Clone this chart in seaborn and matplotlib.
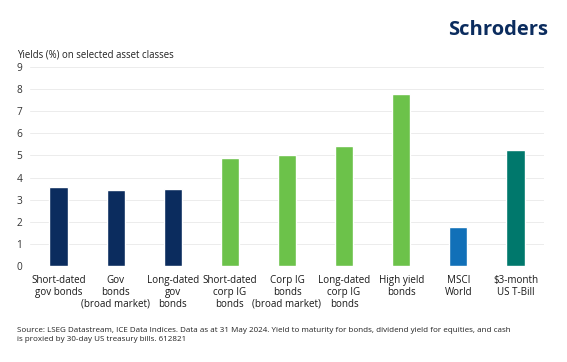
import matplotlib
matplotlib.use("Agg")
import matplotlib.pyplot as plt
import seaborn as sns
import pandas as pd

categories = [
    "Short-dated\ngov bonds",
    "Gov\nbonds\n(broad market)",
    "Long-dated\ngov\nbonds",
    "Short-dated\ncorp IG\nbonds",
    "Corp IG\nbonds\n(broad market)",
    "Long-dated\ncorp IG\nbonds",
    "High yield\nbonds",
    "MSCI\nWorld",
    "$3-month\nUS T-Bill",
]
yields = [3.56, 3.43, 3.47, 4.88, 5.02, 5.43, 7.80, 1.78, 5.24]
colors = ["#0b2c5e", "#0b2c5e", "#0b2c5e", "#6cc24a", "#6cc24a", "#6cc24a",
          "#6cc24a", "#1170b8", "#00786c"]
yticks = list(range(0, 10))

sns.set_theme(style="white")
plt.rcParams["font.family"] = ["Open Sans", "DejaVu Sans"]

df = pd.DataFrame({"cat": categories, "val": yields})

fig = plt.figure(figsize=(5.67, 3.62), dpi=100)
ax = fig.add_axes([30/567, 1-266/362, (544-30)/567, (266-67)/362])

sns.barplot(data=df, x="cat", y="val", hue="cat", palette=colors,
            width=0.32, legend=False, ax=ax, saturation=1)

ax.set_ylim(0, 9)
ax.set_xlim(-0.5, 8.5)
ax.set_yticks(yticks)
ax.set_xlabel("")
ax.set_ylabel("")
ax.grid(axis="y", color="#ececec", linewidth=0.7)
ax.set_axisbelow(True)
for s in ax.spines.values():
    s.set_visible(False)
ax.tick_params(axis="y", labelsize=7.3, colors="#333333", length=0, pad=5.5)
ax.tick_params(axis="x", labelsize=7.1, colors="#1a1a1a", length=0, pad=6.5)
for lbl in ax.get_xticklabels():
    lbl.set_linespacing(1.12)

fig.text(17/567, 1-55/362, "Yields (%) on selected asset classes",
         fontsize=6.9, color="#222222", va="center", ha="left")
fig.text(548/567, 1-30/362, "Schroders", fontsize=14.5, fontweight="bold",
         color="#0b2c5e", va="center", ha="right")
fig.text(17/567, 1-335/362,
         "Source: LSEG Datastream, ICE Data Indices. Data as at 31 May 2024. Yield to maturity for bonds, dividend yield for equities, and cash\n"
         "is proxied by 30-day US treasury bills. 612821",
         fontsize=5.8, color="#222222", va="center", ha="left", linespacing=1.25)

fig.savefig("out.png", dpi=100, facecolor="white")
